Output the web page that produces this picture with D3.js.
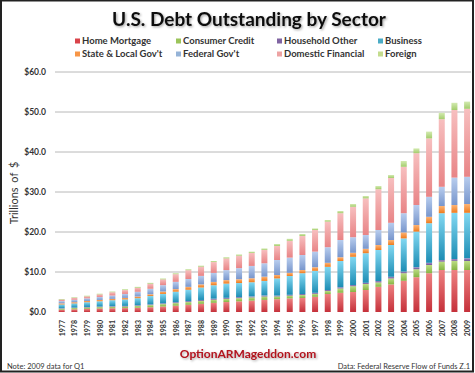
<!DOCTYPE html>
<html>
<head>
<meta charset="utf-8">
<script src="https://cdn.jsdelivr.net/npm/d3@7"></script>
<style>
  html, body { margin: 0; padding: 0; background: #fff; }
  svg { display: block; }
</style>
</head>
<body>
<svg id="chart" width="475" height="373"></svg>
<script>
// ---------- DATA ----------
const years = ["1977","1978","1979","1980","1981","1982","1983","1984","1985","1986","1987",
  "1988","1989","1990","1991","1992","1993","1994","1995","1996","1997","1998","1999",
  "2000","2001","2002","2003","2004","2005","2006","2007","2008","2009"];

const seriesNames = ["Home Mortgage","Consumer Credit","Household Other","Business",
  "State & Local Gov't","Federal Gov't","Domestic Financial","Foreign"];

// trillions of $
const homeMortgage   = [0.58,0.68,0.79,0.88,0.94,0.98,1.08,1.20,1.37,1.57,1.80,2.04,2.29,2.49,2.67,2.85,3.03,3.20,3.40,3.50,3.80,4.50,4.80,5.00,5.50,6.30,6.90,7.80,8.70,9.70,10.50,10.50,10.50];
const consumerCredit = [0.26,0.31,0.35,0.35,0.38,0.40,0.45,0.53,0.61,0.66,0.69,0.73,0.79,0.81,0.80,0.81,0.86,0.70,0.70,0.75,0.75,0.75,1.10,1.45,1.50,1.10,1.50,1.90,2.00,2.05,2.10,2.30,2.25];
const householdOther = [0.10,0.11,0.12,0.13,0.14,0.15,0.16,0.18,0.20,0.22,0.23,0.24,0.25,0.25,0.25,0.24,0.25,0.20,0.20,0.25,0.25,0.25,0.30,0.30,0.30,0.35,0.40,0.40,0.50,0.55,0.40,0.45,0.70];
const business       = [0.95,1.06,1.19,1.33,1.49,1.62,1.77,2.08,2.34,2.63,2.85,3.12,3.36,3.55,3.52,3.54,3.64,4.30,4.70,5.20,5.50,5.80,6.55,7.05,7.40,7.75,7.95,8.30,8.90,9.90,11.70,11.55,11.35];
const stateLocal     = [0.28,0.30,0.31,0.33,0.34,0.38,0.42,0.45,0.60,0.65,0.72,0.78,0.84,0.88,0.96,1.00,1.06,0.85,0.80,0.80,0.90,1.00,0.95,1.00,1.10,1.25,1.25,1.50,1.65,1.60,1.80,1.95,2.20];
const federal        = [0.56,0.61,0.66,0.74,0.83,0.99,1.18,1.37,1.59,1.81,1.96,2.12,2.25,2.50,2.77,3.08,3.34,3.75,3.80,3.75,3.90,3.90,4.30,3.90,3.45,3.75,4.30,4.80,5.00,5.00,4.80,6.85,6.80];
const domesticFin    = [0.40,0.48,0.51,0.66,0.83,0.96,1.02,1.27,1.46,1.92,2.21,2.32,2.71,2.93,3.12,3.25,3.35,3.50,4.20,4.75,5.40,6.40,6.70,7.60,9.15,10.20,11.20,11.60,12.95,14.60,16.90,16.90,17.00];
const foreign        = [0.12,0.15,0.17,0.18,0.20,0.22,0.22,0.22,0.23,0.24,0.24,0.25,0.26,0.29,0.31,0.33,0.37,0.50,0.50,0.50,0.40,0.40,0.55,0.70,0.60,0.80,0.75,1.45,1.20,1.70,1.60,1.80,1.80];

const yTicks = [0,10,20,30,40,50,60];

// ---------- STYLE ----------
const colors = [
  ["#c5303a","#ee8282"],  // home mortgage
  ["#86b443","#bddd84"],  // consumer credit
  ["#6e5396","#a491c6"],  // household other
  ["#1d8db4","#82d8f2"],  // business
  ["#ef7a1c","#fcb476"],  // state & local
  ["#7896cc","#b8cdee"],  // federal
  ["#e88486","#f7bfbf"],  // domestic financial
  ["#a3cc6c","#d3eab0"]   // foreign
];
const legendColors = ["#d9434a","#9bc45a","#8064a2","#4bacc6","#f79646","#95b3d7","#eda3a3","#c3dc8d"];

const svg = d3.select("#chart");
const W = 475, H = 373;

const defs = svg.append("defs");
colors.forEach((c, i) => {
  const g = defs.append("linearGradient").attr("id", "g" + i)
    .attr("x1", 0).attr("y1", 1).attr("x2", 0).attr("y2", 0);
  g.append("stop").attr("offset", "0%").attr("stop-color", c[0]);
  g.append("stop").attr("offset", "100%").attr("stop-color", c[1]);
});
const sh = defs.append("filter").attr("id", "shadow").attr("x", "-10%").attr("y", "-30%").attr("width", "130%").attr("height", "170%");
sh.append("feDropShadow").attr("dx", 1.2).attr("dy", 1.2).attr("stdDeviation", 0.9)
  .attr("flood-color", "#000").attr("flood-opacity", 0.35);

// background
svg.append("rect").attr("width", W).attr("height", H).attr("fill", "#fff");

// ---------- DATA TABLE ----------
const seriesArrays = [homeMortgage, consumerCredit, householdOther, business, stateLocal, federal, domesticFin, foreign];
const table = years.map((y, i) => {
  const o = { year: y };
  seriesNames.forEach((s, k) => o[s] = seriesArrays[k][i]);
  return o;
});
const stack = d3.stack().keys(seriesNames)(table);

// ---------- SCALES ----------
const x = d3.scalePoint().domain(years).range([61.7, 467.1]);
const y = d3.scaleLinear().domain([0, 60]).range([312, 72]);
const barW = 6;

// gridlines
svg.append("g").selectAll("line").data(yTicks.filter(t => t > 0)).join("line")
  .attr("x1", 55).attr("x2", 471)
  .attr("y1", d => y(d)).attr("y2", d => y(d))
  .attr("stroke", "#b8b8b8").attr("stroke-width", 1);

// y axis labels
const yAxis = d3.axisLeft(y).tickValues(yTicks).tickSize(0).tickPadding(0)
  .tickFormat(d => "$" + d3.format(".1f")(d));
const ya = svg.append("g").attr("transform", "translate(46,0)").call(yAxis);
ya.select(".domain").remove();
ya.selectAll("text").attr("font-family", "Lato, 'Open Sans', sans-serif")
  .attr("font-weight", "bold").attr("font-size", 8.5).attr("fill", "#333");

// y title
svg.append("text").attr("transform", "translate(18,193) rotate(-90)")
  .attr("text-anchor", "middle").attr("font-family", "Lato, 'Open Sans', sans-serif")
  .attr("font-size", 11).attr("fill", "#333").attr("word-spacing", 2).text("Trillions of $");

// bars
svg.append("g").selectAll("g").data(stack).join("g")
  .attr("fill", (d, i) => "url(#g" + i + ")")
  .selectAll("rect").data(d => d).join("rect")
  .attr("x", d => x(d.data.year) - barW / 2)
  .attr("width", barW)
  .attr("y", d => y(d[1]))
  .attr("height", d => Math.max(0, y(d[0]) - y(d[1])));

// x axis labels
const xAxis = d3.axisBottom(x).tickSize(0).tickPadding(0);
const xa = svg.append("g").attr("transform", "translate(0,319)").call(xAxis);
xa.select(".domain").remove();
xa.selectAll("text")
  .attr("transform", "rotate(-90)")
  .attr("text-anchor", "end").attr("dy", "0.35em").attr("x", -1).attr("y", 0)
  .attr("font-family", "Lato, 'Open Sans', sans-serif").attr("font-weight", "bold")
  .attr("font-size", 7).attr("fill", "#333");
xa.selectAll(".tick text").attr("transform", "rotate(-90)").attr("x", -1);

// title
svg.append("text").attr("x", 249).attr("y", 26).attr("text-anchor", "middle")
  .attr("font-family", "Lato, 'Open Sans', sans-serif").attr("font-weight", "bold")
  .attr("font-size", 19).attr("fill", "#111").attr("filter", "url(#shadow)")
  .text("U.S. Debt Outstanding by Sector");

// legend
const legX = [75, 176, 277, 378];
const legend = svg.append("g").selectAll("g").data(seriesNames).join("g")
  .attr("transform", (d, i) => `translate(${legX[i % 4]},${i < 4 ? 41 : 54})`);
legend.append("rect").attr("x", 0).attr("y", -2.5).attr("width", 5).attr("height", 5)
  .attr("fill", (d, i) => legendColors[i]);
legend.append("text").attr("x", 7).attr("y", 0).attr("dy", "0.35em")
  .attr("font-family", "Lato, 'Open Sans', sans-serif").attr("font-weight", "bold")
  .attr("font-size", 9.5).attr("fill", "#333").text(d => d);

// footer
svg.append("text").attr("x", 248).attr("y", 358).attr("text-anchor", "middle")
  .attr("font-family", "Lato, 'Open Sans', sans-serif").attr("font-weight", "bold")
  .attr("font-size", 12).attr("fill", "#b0131d").attr("filter", "url(#shadow)")
  .text("OptionARMageddon.com");
svg.append("text").attr("x", 7).attr("y", 369)
  .attr("font-family", "Lato, 'Open Sans', sans-serif").attr("font-size", 7.5).attr("fill", "#333")
  .text("Note: 2009 data for Q1");
svg.append("text").attr("x", 470).attr("y", 369).attr("text-anchor", "end")
  .attr("font-family", "Lato, 'Open Sans', sans-serif").attr("font-size", 7.5).attr("fill", "#333")
  .text("Data: Federal Reserve Flow of Funds Z.1");

// frame
svg.append("rect").attr("x", 1).attr("y", 0.5).attr("width", W - 3).attr("height", H - 2)
  .attr("fill", "none").attr("stroke", "#222").attr("stroke-width", 2);
</script>
</body>
</html>
